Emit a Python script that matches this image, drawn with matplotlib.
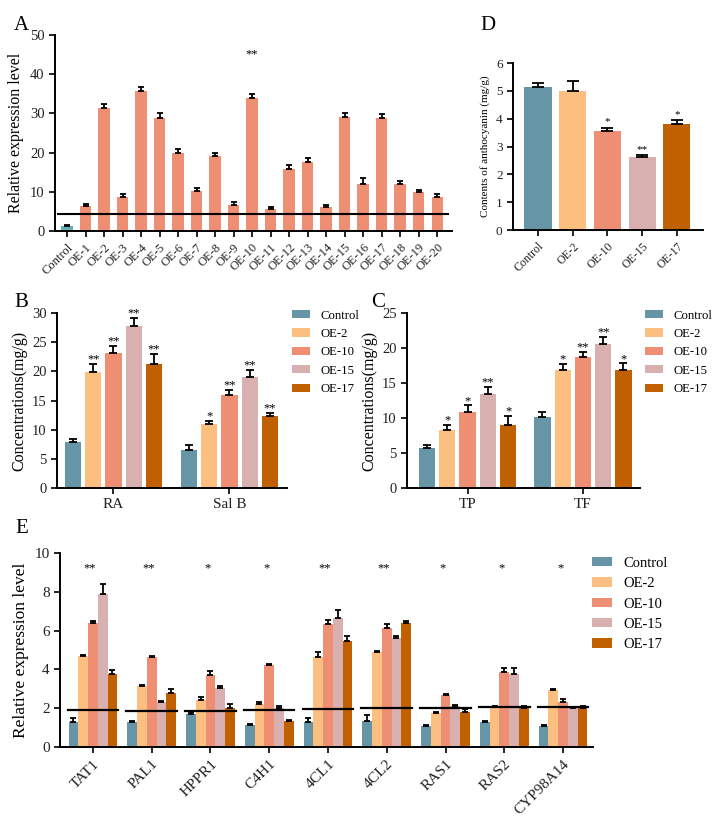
import matplotlib
matplotlib.use('Agg')
import matplotlib.pyplot as plt
import numpy as np

plt.rcParams['font.family'] = ['Liberation Serif', 'DejaVu Serif']

# ---- colours ----
col_ctrl = '#6795a8'
col_ctrl_a = '#62b1b5'
col_oe2 = '#fdbf80'
col_oe10 = '#ee8f73'
col_oe15 = '#d8b0b0'
col_oe17 = '#c06000'
colors5 = [col_ctrl, col_oe2, col_oe10, col_oe15, col_oe17]
lines5 = ['Control', 'OE-2', 'OE-10', 'OE-15', 'OE-17']

# ---- panel A data ----
a_labels = ['Control'] + ['OE-%d' % i for i in range(1, 21)]
a_vals = [1.2, 6.3, 31.3, 8.8, 35.8, 28.7, 20.0, 10.2, 19.1, 6.7, 33.8,
          5.7, 15.9, 17.5, 6.2, 29.0, 12.1, 28.9, 11.9, 9.9, 8.6]
a_err = [0.3, 0.7, 1.0, 0.7, 1.0, 1.3, 0.9, 0.8, 0.9, 0.6, 1.1,
         0.5, 1.0, 1.2, 0.5, 1.2, 1.5, 1.0, 0.8, 0.6, 0.8]
a_line = 4.4

# ---- panel D data ----
d_vals = [5.15, 5.0, 3.55, 2.63, 3.8]
d_err = [0.12, 0.35, 0.12, 0.05, 0.15]
d_sig = ['', '', '*', '**', '*']

# ---- panel B data ----
b_groups = ['RA', 'Sal B']
b_vals = [[7.9, 19.9, 23.1, 27.8, 21.3],
          [6.6, 10.9, 15.9, 19.0, 12.4]]
b_err = [[0.5, 1.3, 1.3, 1.4, 1.7],
         [0.8, 0.6, 0.9, 1.2, 0.5]]
b_sig = [['', '**', '**', '**', '**'],
         ['', '*', '**', '**', '**']]

# ---- panel C data ----
c_groups = ['TP', 'TF']
c_vals = [[5.7, 8.3, 10.8, 13.5, 9.0],
          [10.1, 16.9, 18.7, 20.6, 16.8]]
c_err = [[0.4, 0.7, 1.0, 1.0, 1.3],
         [0.8, 0.8, 0.8, 1.0, 1.0]]
c_sig = [['', '*', '*', '**', '*'],
         ['', '*', '**', '**', '*']]

# ---- panel E data ----
e_genes = ['TAT1', 'PAL1', 'HPPR1', 'C4H1', '4CL1', '4CL2', 'RAS1', 'RAS2', 'CYP98A14']
e_vals = [[1.3, 4.7, 6.4, 7.9, 3.75],
          [1.27, 3.15, 4.62, 2.3, 2.8],
          [1.72, 2.45, 3.7, 3.05, 2.0],
          [1.12, 2.22, 4.25, 2.0, 1.35],
          [1.28, 4.65, 6.35, 6.65, 5.45],
          [1.32, 4.92, 6.15, 5.6, 6.4],
          [1.08, 1.75, 2.7, 2.1, 1.8],
          [1.27, 2.05, 3.87, 3.75, 2.0],
          [1.07, 2.96, 2.32, 2.0, 2.0]]
e_err = [[0.2, 0.05, 0.1, 0.5, 0.2],
         [0.05, 0.05, 0.05, 0.05, 0.2],
         [0.08, 0.15, 0.2, 0.12, 0.2],
         [0.08, 0.1, 0.05, 0.1, 0.05],
         [0.2, 0.25, 0.2, 0.4, 0.25],
         [0.35, 0.05, 0.2, 0.1, 0.1],
         [0.05, 0.05, 0.05, 0.05, 0.15],
         [0.05, 0.05, 0.2, 0.35, 0.1],
         [0.05, 0.05, 0.15, 0.05, 0.1]]
e_line = [1.9, 1.87, 1.88, 1.9, 1.95, 2.0, 2.0, 2.05, 2.07]
e_sig = ['**', '**', '*', '*', '**', '**', '*', '*', '*']


def style_axes(ax, lw=1.4):
    for s in ['top', 'right']:
        ax.spines[s].set_visible(False)
    for s in ['left', 'bottom']:
        ax.spines[s].set_linewidth(lw)
    ax.tick_params(width=lw, length=4, colors='#222222')


def up_err(ax, x, y, e, cap=2.5, lw=1.3):
    ax.errorbar(x, y, yerr=[np.zeros(len(e)), e], fmt='none', ecolor='black',
                elinewidth=lw, capsize=cap, capthick=lw)


fig = plt.figure(figsize=(7.18, 8.23), dpi=100)

# ================= A =================
axA = fig.add_axes([0.0766, 0.7193, 0.553, 0.2382])
xa = np.arange(len(a_vals))
axA.bar(xa, a_vals, width=0.62, color=[col_ctrl_a] + [col_oe10] * 20)
up_err(axA, xa, a_vals, a_err)
axA.plot([-0.5, 20.6], [a_line, a_line], color='black', lw=1.5)
axA.text(10, 45, '**', ha='center', va='center', fontsize=9)
axA.set_xlim(-0.65, 20.8)
axA.set_ylim(0, 50)
axA.set_yticks([0, 10, 20, 30, 40, 50])
axA.set_xticks(xa)
axA.set_xticklabels(a_labels, rotation=45, ha='right', rotation_mode='anchor', fontsize=9)
axA.tick_params(axis='y', labelsize=10.5)
axA.set_ylabel('Relative expression level', fontsize=11.5)
style_axes(axA)
fig.text(0.03, 0.969, 'A', fontsize=15, ha='center', va='center')

# ================= D =================
axD = fig.add_axes([0.7145, 0.7205, 0.2646, 0.2029])
xd = np.arange(5)
axD.bar(xd, d_vals, width=0.78, color=colors5)
up_err(axD, xd, d_vals, d_err, cap=4)
for x, v, e, s in zip(xd, d_vals, d_err, d_sig):
    if s:
        axD.text(x, v + e + 0.05, s, ha='center', va='bottom', fontsize=8)
axD.set_xlim(-0.72, 4.75)
axD.set_ylim(0, 6)
axD.set_yticks(range(7))
axD.set_xticks(xd)
axD.set_xticklabels(lines5, rotation=45, ha='right', rotation_mode='anchor', fontsize=8.5)
axD.tick_params(axis='y', labelsize=9.5)
axD.set_ylabel('Contents of anthocyanin (mg/g)', fontsize=8)
style_axes(axD)
fig.text(0.68, 0.969, 'D', fontsize=15, ha='center', va='center')


def grouped(ax, groups, vals, errs, sigs, gap):
    offs = np.arange(5) - 2
    for gi in range(len(groups)):
        xs = gi * gap + offs
        ax.bar(xs, vals[gi], width=0.8, color=colors5,
               label=lines5 if gi == 0 else None)
        up_err(ax, xs, vals[gi], errs[gi], cap=3)
        for x, v, e, s in zip(xs, vals[gi], errs[gi], sigs[gi]):
            if s:
                ax.text(x, v + e - 0.2, s, ha='center', va='bottom', fontsize=9)
    ax.set_xticks([gi * gap for gi in range(len(groups))])
    ax.set_xticklabels(groups, fontsize=11)
    ax.tick_params(axis='y', labelsize=10.5)
    ax.set_ylabel('Concentrations(mg/g)', fontsize=11.5, labelpad=3)
    style_axes(ax)
    ax.legend(loc='upper left', bbox_to_anchor=(1.02, 1.02), frameon=False,
              fontsize=9.2, handlelength=1.45, handleheight=0.6, handletextpad=0.8,
              labelspacing=0.5, borderpad=0, borderaxespad=0)


# ================= B =================
axB = fig.add_axes([0.0794, 0.4070, 0.3203, 0.2126])
grouped(axB, b_groups, b_vals, b_err, b_sig, 5.73)
axB.set_xlim(-2.79, 8.57)
axB.set_ylim(0, 30)
axB.set_yticks(range(0, 31, 5))
fig.text(0.03, 0.632, 'B', fontsize=15, ha='center', va='center')

# ================= C =================
axC = fig.add_axes([0.5669, 0.4070, 0.3245, 0.2126])
grouped(axC, c_groups, c_vals, c_err, c_sig, 5.7)
axC.set_xlim(-2.99, 8.52)
axC.set_ylim(0, 25)
axC.set_yticks(range(0, 26, 5))
fig.text(0.527, 0.632, 'C', fontsize=15, ha='center', va='center')

# ================= E =================
axE = fig.add_axes([0.0836, 0.0923, 0.7423, 0.2357])
offs = (np.arange(5) - 2) * 0.166
for gi in range(len(e_genes)):
    xs = gi + offs
    axE.bar(xs, e_vals[gi], width=0.166, color=colors5,
            label=lines5 if gi == 0 else None)
    up_err(axE, xs, e_vals[gi], e_err[gi], cap=2)
    axE.plot([gi - 0.43, gi + 0.43], [e_line[gi], e_line[gi]], color='black', lw=1.6)
    axE.text(gi - 0.05, 9.2, e_sig[gi], ha='center', va='center', fontsize=9)
axE.set_xlim(-0.56, 8.51)
axE.set_ylim(0, 10)
axE.set_yticks([0, 2, 4, 6, 8, 10])
axE.set_xticks(range(len(e_genes)))
axE.set_xticklabels(e_genes, rotation=45, ha='right', rotation_mode='anchor', fontsize=11)
axE.tick_params(axis='y', labelsize=11)
axE.set_ylabel('Relative expression level', fontsize=12.5)
style_axes(axE)
axE.legend(loc='upper left', bbox_to_anchor=(0.998, 0.98), frameon=False,
           fontsize=10.5, handlelength=1.37, handleheight=0.6, handletextpad=0.8,
           labelspacing=0.5, borderpad=0, borderaxespad=0)
fig.text(0.03, 0.358, 'E', fontsize=15, ha='center', va='center')

fig.savefig('out.png', dpi=100)
